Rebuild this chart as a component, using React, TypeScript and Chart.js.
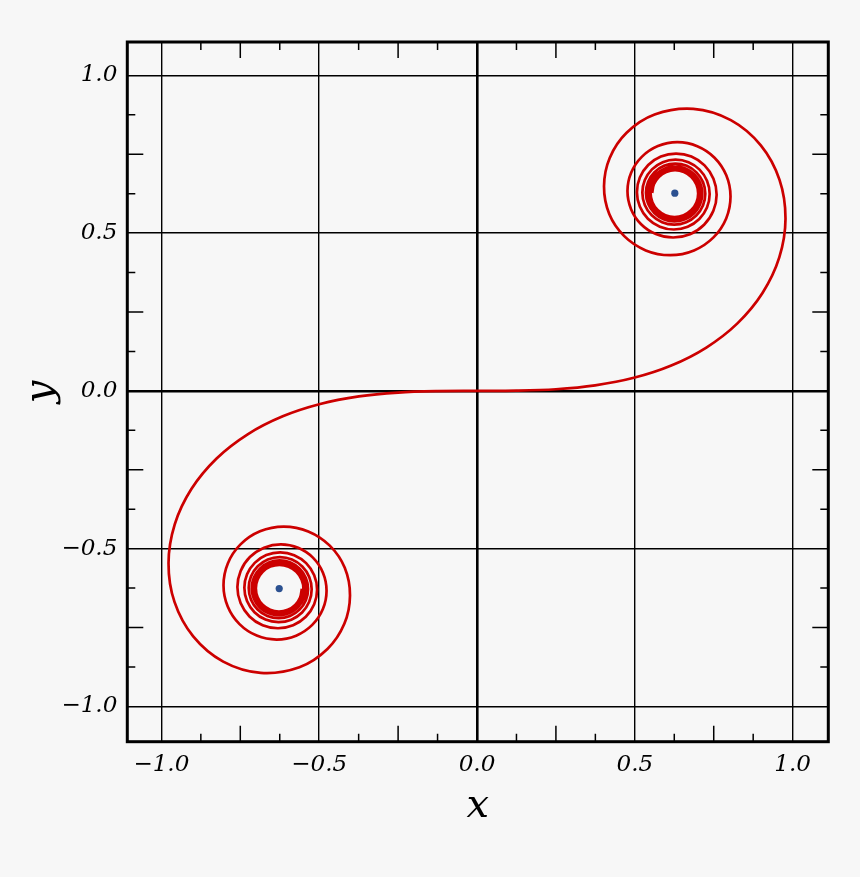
import React, { useEffect, useRef } from 'react';
import { Chart, registerables } from 'chart.js';

Chart.register(...registerables);

// Euler (clothoid) spiral, branch t >= 0
const posX = [0, 0.1250, 0.2499, 0.3743, 0.4969, 0.6155, 0.7266, 0.8251, 0.9045, 0.9577, 0.9774, 0.9585, 0.8992, 0.8041, 0.6853, 0.5627, 0.4739, 0.4204,
  0.4024, 0.4190, 0.4665, 0.5347, 0.6123, 0.6875, 0.7493, 0.7895, 0.8032, 0.7898, 0.7525, 0.6979, 0.6349, 0.5732, 0.5220, 0.4883, 0.4767, 0.4881, 0.5199, 0.5668, 0.6212,
  0.6747, 0.7195, 0.7489, 0.7592, 0.7491, 0.7209, 0.6792, 0.6306, 0.5826, 0.5424, 0.5159, 0.5067, 0.5158, 0.5414, 0.5793, 0.6236,
  0.6675, 0.7043, 0.7286, 0.7371, 0.7287, 0.7051, 0.6701, 0.6291, 0.5884, 0.5543, 0.5317, 0.5238, 0.5316, 0.5536, 0.5864, 0.6247,
  0.6627, 0.6947, 0.7159, 0.7233, 0.7160, 0.6952, 0.6644, 0.6283, 0.5925, 0.5623, 0.5422, 0.5352, 0.5422, 0.5618, 0.5910, 0.6252,
  0.6593, 0.6880, 0.7070, 0.7137, 0.7071, 0.6884, 0.6605, 0.6279, 0.5954, 0.5681, 0.5499, 0.5435, 0.5498, 0.5677, 0.5943, 0.6256,
  0.6567, 0.6829, 0.7003, 0.7064, 0.7004, 0.6832, 0.6576, 0.6276, 0.5977, 0.5725, 0.5558, 0.5499, 0.5557, 0.5723, 0.5969, 0.6258,
  0.6546, 0.6789, 0.6951, 0.7007, 0.6951, 0.6791, 0.6554, 0.6274, 0.5996, 0.5761, 0.5605, 0.5550];
const posY = [0, 0.0007, 0.0052, 0.0176, 0.0415, 0.0805, 0.1375, 0.2141, 0.3103, 0.4230, 0.5460, 0.6689, 0.7782, 0.8582, 0.8939, 0.8761, 0.8182, 0.7384,
  0.6484, 0.5607, 0.4905, 0.4454, 0.4301, 0.4452, 0.4866, 0.5468, 0.6160, 0.6834, 0.7393, 0.7757, 0.7883, 0.7760, 0.7418, 0.6915, 0.6333, 0.5761, 0.5284, 0.4971, 0.4862,
  0.4969, 0.5267, 0.5708, 0.6220, 0.6726, 0.7149, 0.7428, 0.7524, 0.7429, 0.7161, 0.6764, 0.6301, 0.5843, 0.5459, 0.5206, 0.5117,
  0.5204, 0.5450, 0.5814, 0.6240, 0.6661, 0.7015, 0.7250, 0.7331, 0.7251, 0.7023, 0.6684, 0.6288, 0.5896, 0.5566, 0.5347, 0.5270,
  0.5346, 0.5560, 0.5877, 0.6249, 0.6618, 0.6928, 0.7134, 0.7206, 0.7135, 0.6933, 0.6633, 0.6282, 0.5933, 0.5639, 0.5443, 0.5375,
  0.5443, 0.5634, 0.5919, 0.6253, 0.6586, 0.6866, 0.7052, 0.7117, 0.7052, 0.6869, 0.6597, 0.6278, 0.5961, 0.5693, 0.5515, 0.5453,
  0.5514, 0.5690, 0.5950, 0.6256, 0.6561, 0.6818, 0.6989, 0.7049, 0.6989, 0.6821, 0.6570, 0.6276, 0.5983, 0.5735, 0.5571, 0.5513,
  0.5570, 0.5733, 0.5974, 0.6259, 0.6541, 0.6780, 0.6939, 0.6995, 0.6939, 0.6783, 0.6549, 0.6274];

// branch t <= 0
const negX = [0, -0.1250, -0.2499, -0.3743, -0.4969, -0.6155, -0.7266, -0.8251, -0.9045, -0.9577, -0.9774, -0.9585, -0.8992, -0.8041, -0.6853, -0.5627, -0.4739, -0.4204,
  -0.4024, -0.4190, -0.4665, -0.5347, -0.6123, -0.6875, -0.7493, -0.7895, -0.8032, -0.7898, -0.7525, -0.6979, -0.6349, -0.5732, -0.5220, -0.4883, -0.4767, -0.4881, -0.5199, -0.5668, -0.6212,
  -0.6747, -0.7195, -0.7489, -0.7592, -0.7491, -0.7209, -0.6792, -0.6306, -0.5826, -0.5424, -0.5159, -0.5067, -0.5158, -0.5414, -0.5793, -0.6236,
  -0.6675, -0.7043, -0.7286, -0.7371, -0.7287, -0.7051, -0.6701, -0.6291, -0.5884, -0.5543, -0.5317, -0.5238, -0.5316, -0.5536, -0.5864, -0.6247,
  -0.6627, -0.6947, -0.7159, -0.7233, -0.7160, -0.6952, -0.6644, -0.6283, -0.5925, -0.5623, -0.5422, -0.5352, -0.5422, -0.5618, -0.5910, -0.6252,
  -0.6593, -0.6880, -0.7070, -0.7137, -0.7071, -0.6884, -0.6605, -0.6279, -0.5954, -0.5681, -0.5499, -0.5435, -0.5498, -0.5677, -0.5943, -0.6256,
  -0.6567, -0.6829, -0.7003, -0.7064, -0.7004, -0.6832, -0.6576, -0.6276, -0.5977, -0.5725, -0.5558, -0.5499, -0.5557, -0.5723, -0.5969, -0.6258,
  -0.6546, -0.6789, -0.6951, -0.7007, -0.6951, -0.6791, -0.6554, -0.6274, -0.5996, -0.5761, -0.5605, -0.5550];
const negY = [0, -0.0007, -0.0052, -0.0176, -0.0415, -0.0805, -0.1375, -0.2141, -0.3103, -0.4230, -0.5460, -0.6689, -0.7782, -0.8582, -0.8939, -0.8761, -0.8182, -0.7384,
  -0.6484, -0.5607, -0.4905, -0.4454, -0.4301, -0.4452, -0.4866, -0.5468, -0.6160, -0.6834, -0.7393, -0.7757, -0.7883, -0.7760, -0.7418, -0.6915, -0.6333, -0.5761, -0.5284, -0.4971, -0.4862,
  -0.4969, -0.5267, -0.5708, -0.6220, -0.6726, -0.7149, -0.7428, -0.7524, -0.7429, -0.7161, -0.6764, -0.6301, -0.5843, -0.5459, -0.5206, -0.5117,
  -0.5204, -0.5450, -0.5814, -0.6240, -0.6661, -0.7015, -0.7250, -0.7331, -0.7251, -0.7023, -0.6684, -0.6288, -0.5896, -0.5566, -0.5347, -0.5270,
  -0.5346, -0.5560, -0.5877, -0.6249, -0.6618, -0.6928, -0.7134, -0.7206, -0.7135, -0.6933, -0.6633, -0.6282, -0.5933, -0.5639, -0.5443, -0.5375,
  -0.5443, -0.5634, -0.5919, -0.6253, -0.6586, -0.6866, -0.7052, -0.7117, -0.7052, -0.6869, -0.6597, -0.6278, -0.5961, -0.5693, -0.5515, -0.5453,
  -0.5514, -0.5690, -0.5950, -0.6256, -0.6561, -0.6818, -0.6989, -0.7049, -0.6989, -0.6821, -0.6570, -0.6276, -0.5983, -0.5735, -0.5571, -0.5513,
  -0.5570, -0.5733, -0.5974, -0.6259, -0.6541, -0.6780, -0.6939, -0.6995, -0.6939, -0.6783, -0.6549, -0.6274];

// limit points of the spiral
const centerX = [0.6267, -0.6267];
const centerY = [0.6267, -0.6267];

// axes
const gridTicks = [-1.0, -0.5, 0.0, 0.5, 1.0];
const mediumTicks = [-0.75, -0.25, 0.25, 0.75];
const minorTicks = [-0.875, -0.625, -0.375, -0.125, 0.125, 0.375, 0.625, 0.875];

const BG = '#f7f7f7';
const RED = '#cc0000';
const BLUE = '#2c5191';
const TENSION = 0.34;

const fmt = (v: number) => (v < 0 ? '\u2212' : '') + Math.abs(v).toFixed(1);

export default function App() {
  const ref = useRef<HTMLCanvasElement>(null);

  useEffect(() => {
    const canvas = ref.current;
    if (!canvas) return;
    const toPts = (xs: number[], ys: number[]) => xs.map((x, i) => ({ x, y: ys[i] }));

    const framePlugin = {
      id: 'frameAndTicks',
      beforeDraw(chart: any) {
        const { ctx, width, height } = chart;
        ctx.save();
        ctx.fillStyle = BG;
        ctx.fillRect(0, 0, width, height);
        ctx.restore();
      },
      afterDraw(chart: any) {
        const { ctx, chartArea: a, scales } = chart;
        ctx.save();
        ctx.strokeStyle = '#000';
        ctx.lineWidth = 1.5;
        const marks: [number, number][] = [
          ...mediumTicks.map((v) => [v, 16] as [number, number]),
          ...minorTicks.map((v) => [v, 8] as [number, number]),
        ];
        ctx.beginPath();
        for (const [v, len] of marks) {
          const px = scales.x.getPixelForValue(v);
          ctx.moveTo(px, a.top);
          ctx.lineTo(px, a.top + len);
          ctx.moveTo(px, a.bottom);
          ctx.lineTo(px, a.bottom - len);
          const py = scales.y.getPixelForValue(v);
          ctx.moveTo(a.left, py);
          ctx.lineTo(a.left + len, py);
          ctx.moveTo(a.right, py);
          ctx.lineTo(a.right - len, py);
        }
        ctx.stroke();
        ctx.lineWidth = 3;
        ctx.strokeRect(a.left, a.top, a.right - a.left, a.bottom - a.top);
        ctx.restore();
      },
    };

    const tickFont = { family: 'DejaVu Serif', size: 23, style: 'italic' as const };
    const titleFont = { family: 'DejaVu Serif', size: 40, style: 'italic' as const };
    const gridOpts = {
      color: '#000',
      lineWidth: (c: any) => (c.tick && c.tick.value === 0 ? 2.6 : 1.4),
      drawTicks: false,
    };

    const spiral = (xs: number[], ys: number[], label: string) => ({
      label,
      data: toPts(xs, ys),
      showLine: true,
      borderColor: RED,
      borderWidth: 2.7,
      borderJoinStyle: 'round' as const,
      pointRadius: 0,
      pointHoverRadius: 0,
      tension: TENSION,
      cubicInterpolationMode: 'default' as const,
      fill: false,
    });

    const chart = new Chart(canvas, {
      type: 'line',
      data: {
        datasets: [
          {
            label: 'centers',
            data: toPts(centerX, centerY),
            pointRadius: 3.6,
            pointBackgroundColor: BLUE,
            pointBorderWidth: 0,
            showLine: false,
          },
          spiral(posX, posY, 'spiral t>0'),
          spiral(negX, negY, 'spiral t<0'),
        ],
      },
      options: {
        animation: false,
        responsive: false,
        devicePixelRatio: 1,
        elements: { line: { tension: TENSION, capBezierPoints: false } },
        layout: { padding: { top: 42, right: 31.7, left: 0, bottom: 0 } },
        plugins: { legend: { display: false }, tooltip: { enabled: false } },
        events: [],
        scales: {
          x: {
            type: 'linear',
            min: -1.108,
            max: 1.113,
            afterFit: (s: any) => { s.height = 135.3; },
            afterBuildTicks: (s: any) => { s.ticks = gridTicks.map((v) => ({ value: v })); },
            ticks: {
              font: tickFont,
              color: '#000',
              padding: 10,
              autoSkip: false,
              maxRotation: 0,
              callback: (v: any) => fmt(Number(v)),
            },
            grid: gridOpts,
            border: { display: false },
            title: { display: true, text: 'x', font: titleFont, color: '#000', padding: { top: 0, bottom: 46 } },
          },
          y: {
            type: 'linear',
            min: -1.112,
            max: 1.106,
            afterFit: (s: any) => { s.width = 127.3; },
            afterBuildTicks: (s: any) => { s.ticks = gridTicks.map((v) => ({ value: v })); },
            ticks: {
              font: tickFont,
              color: '#000',
              padding: 10,
              autoSkip: false,
              callback: (v: any) => fmt(Number(v)),
            },
            grid: gridOpts,
            border: { display: false },
            title: { display: true, text: 'y', font: titleFont, color: '#000', padding: { top: 18, bottom: 0 } },
          },
        },
      } as any,
      plugins: [framePlugin],
    });

    return () => chart.destroy();
  }, []);

  return (
    <div style={{ position: 'absolute', left: 0, top: 0, width: 860, height: 877, background: BG }}>
      <canvas ref={ref} width={860} height={877} style={{ display: 'block', width: 860, height: 877 }} />
    </div>
  );
}
